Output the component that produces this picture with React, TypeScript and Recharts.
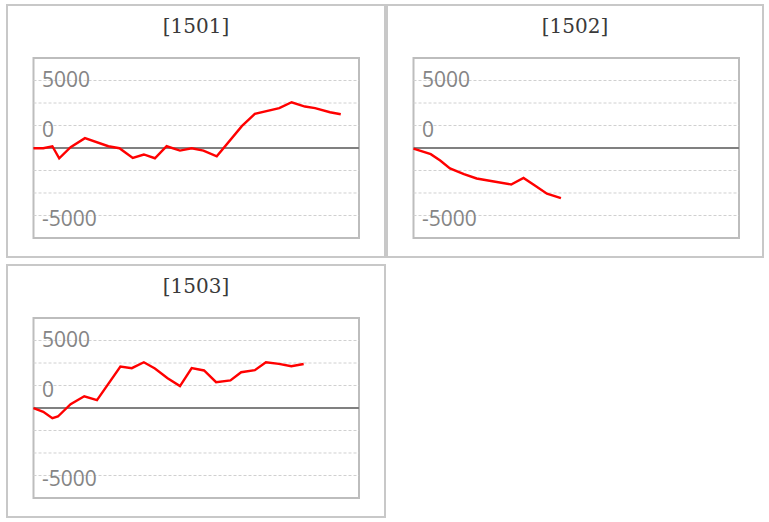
import React from 'react';
import { LineChart, Line, XAxis, YAxis, ReferenceLine, ReferenceArea } from 'recharts';

const titles = ['[1501]', '[1502]', '[1503]'];
const yTicks = [5000, 0, -5000];
const gridValues = [5000, 3333, 1667, -1667, -3333, -5000];

const xs1 = [0, 3.0, 5.8, 7.9, 11.4, 15.8, 23.0, 26.4, 30.5, 33.9, 37.3, 40.9, 45.0, 48.6, 52.2, 56.3, 64.0, 68.0, 75.5, 79.3, 83.4, 86.5, 91.1, 94.4];
const ys1 = [-15, -15, 130, -760, 60, 730, 130, -15, -730, -480, -760, 130, -190, -15, -190, -610, 1620, 2530, 2950, 3390, 3070, 2950, 2650, 2500];

const xs2 = [0, 5.3, 8.2, 11.2, 15.5, 19.4, 24.7, 30.0, 33.8, 37.4, 41.0, 45.3];
const ys2 = [-40, -460, -930, -1510, -1940, -2260, -2480, -2700, -2220, -2800, -3390, -3720];

const xs3 = [0, 3.0, 5.8, 7.5, 11.4, 15.6, 19.5, 26.7, 30.2, 33.9, 37.3, 41.2, 45.0, 48.6, 52.4, 56.1, 60.5, 63.8, 68.0, 71.4, 75.4, 79.2, 83.0];
const ys3 = [-15, -280, -760, -630, 280, 870, 580, 3070, 2950, 3390, 2930, 2210, 1620, 2960, 2780, 1910, 2040, 2650, 2800, 3390, 3270, 3090, 3260];

const toRows = (xs: number[], ys: number[]) => xs.map((x, i) => ({ x, y: ys[i] }));

const panels = [
  { title: titles[0], data: toRows(xs1, ys1), left: 6, top: 4, width: 380 },
  { title: titles[1], data: toRows(xs2, ys2), left: 386, top: 4, width: 378 },
  { title: titles[2], data: toRows(xs3, ys3), left: 6, top: 264, width: 380 },
];

const labelOffset: Record<string, number> = { '5000': 6, '0': -11, '-5000': 11 };

const Tick = (props: any) => {
  const { y, payload } = props;
  const v = payload.value;
  const off = labelOffset[String(v)] ?? 0;
  return (
    <text x={36} y={y + off} fill="#858585" fontSize={21} fontFamily="'Open Sans', sans-serif" textAnchor="start">
      {String(v)}
    </text>
  );
};

const Panel = ({ p }: { p: any }) => (
  <>
    <div
      style={{
        position: 'absolute',
        left: p.left,
        top: p.top,
        width: p.width,
        height: 254,
        border: '2px solid #c8c8c8',
        boxSizing: 'border-box',
      }}
    />
    <div
      style={{
        position: 'absolute',
        left: p.left,
        top: p.top + 10,
        width: p.width,
        textAlign: 'center',
        fontFamily: "'DejaVu Serif', serif",
        fontSize: 20,
        color: '#3a3a3a',
      }}
    >
      {p.title}
    </div>
    <div style={{ position: 'absolute', left: p.left, top: p.top }}>
      <LineChart width={p.width} height={254} data={p.data} margin={{ top: 54, right: p.width - 27.5 - 325.5, bottom: 20, left: 26.5 }}>
        <XAxis dataKey="x" type="number" domain={[0, 100]} hide />
        {gridValues.map((g) => (
          <ReferenceLine key={g} y={g} stroke="#d0d0d0" strokeDasharray="3 2" strokeWidth={1} />
        ))}
        <ReferenceLine y={0} stroke="#808080" strokeWidth={2} />
        <ReferenceArea x1={0} x2={100} y1={-6667} y2={6667} fill="none" stroke="#bdbdbd" strokeWidth={2} fillOpacity={0} />
        <YAxis
          type="number"
          domain={[-6667, 6667]}
          ticks={yTicks}
          width={1}
          axisLine={false}
          tickLine={false}
          tick={<Tick />}
          interval={0}
        />
        <Line type="linear" dataKey="y" stroke="#ff0000" strokeWidth={2.4} dot={false} isAnimationActive={false} />
      </LineChart>
    </div>
  </>
);

export default function App() {
  return (
    <div style={{ position: 'absolute', left: 0, top: 0, width: 769, height: 522, background: '#fff' }}>
      {panels.map((p) => (
        <Panel key={p.title} p={p} />
      ))}
    </div>
  );
}
